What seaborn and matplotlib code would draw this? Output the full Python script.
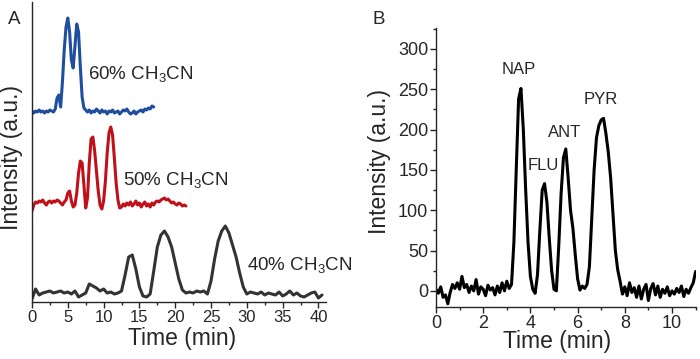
import numpy as np
import pandas as pd
import matplotlib.pyplot as plt
import seaborn as sns

# ---- data ----
# Panel A: chromatograms at 3 CH3CN fractions, intensity above each baseline
labels_a = ["60% CH$_\\mathregular{3}$CN", "50% CH$_\\mathregular{3}$CN", "40% CH$_\\mathregular{3}$CN"]
offsets_a = [190, 99, 9]
steps_a = [0.25, 0.25, 0.5]

blue_60 = [1, -1, 1, 0, 2, 0, 1, -1, 1, 0, 2, 1, 0, 3, 14, 17, 5, 30, 62, 85,
           94, 80, 52, 44, 66, 88, 80, 45, 15, 4, 2, 0, 2, -1, 1, 0, 3, 1, -1, 2,
           0, 1, -2, 1, 0, 2, -1, 0, 1, -2, 0, 2, 1, 3, 0, -2, -1, 1, -2, 0,
           1, 2, 0, 3, 2, 4, 3, 6, 5]
red_50 = [-8, -2, 1, 0, 2, 1, 3, 0, -2, 1, 2, 0, 2, 1, 3, 2, 0, -2, 1, 3,
          10, 12, 2, -4, -2, 10, 30, 42, 40, 18, -5, 5, 40, 64, 66, 52, 32, 12, -2, -6,
          2, 22, 50, 70, 76, 68, 45, 20, 3, -5, -4, -1, -3, 0, -2, 1, -3, -1, 2, -2,
          0, -4, -1, 1, -3, -1, -4, 0, -2, 1, 2, 1, 3, 4, 5, 3, 4, 2, 0, 1,
          -1, -2, 0, -1, -3, -2, -3]
gray_40 = [-6, 4, -2, 0, 1, 2, 0, 1, 2, 0, 1, -1, 2, -4, -2, 0, 9, 7, 5, 2,
           4, 0, 1, -1, 0, 2, 18, 36, 38, 24, 6, -3, -4, -1, 22, 46, 58, 62, 56, 46,
           30, 14, 3, 0, 1, 0, 2, 1, 2, -1, 12, 34, 52, 62, 67, 60, 48, 36, 20, 6,
           -1, 1, 0, -1, 1, -2, 0, -1, -2, 1, -3, -1, 2, -2, 0, -3, -4, -2, 0, 1,
           -5, -2]
colors_a = ["#1F4E9E", "#C0101A", "#333333"]
label_pos_a = [(7.8, 227), (12.7, 121), (30.0, 36)]

# Panel B: separation of four PAHs, 0.1 min sampling
intensity_b = [2, -3, 5, -8, -5, -16, -2, 8, 3, 10,
               2, 18, 4, 8, -2, 6, 0, 14, -4, 5,
               2, -6, 7, 1, 4, -5, 6, -2, 10, 0,
               12, 3, 8, 60, 150, 238, 251, 200, 125, 60,
               18, 2, -3, 20, 75, 125, 133, 110, 65, 25,
               2, 0, 55, 120, 165, 176, 140, 100, 78, 45,
               15, 1, 6, 3, 8, 30, 90, 150, 190, 205,
               212, 214, 195, 172, 140, 95, 50, 26, 12, -4,
               5, -6, 10, -2, 4, -8, 6, -10, 2, 8,
               -12, 3, 9, -5, 6, -8, 2, -3, 5, -6,
               0, -4, 3, -2, 6, -7, 2, -3, 4, 10,
               24]
peaks_b = ["NAP", "FLU", "ANT", "PYR"]
peak_pos_b = [(3.52, 274), (4.53, 155), (5.47, 196), (7.0, 237)]

# ---- build tables ----
frames = []
for lab, vals, step, off in zip(labels_a, [blue_60, red_50, gray_40], steps_a, offsets_a):
    frames.append(pd.DataFrame({"time": np.arange(len(vals)) * step,
                                "intensity": np.array(vals) + off,
                                "trace": lab}))
df_a = pd.concat(frames, ignore_index=True)
df_b = pd.DataFrame({"time": np.arange(len(intensity_b)) * 0.1,
                     "intensity": intensity_b})

sns.set_style("ticks")
plt.rcParams["font.family"] = ["Liberation Sans", "DejaVu Sans"]
plt.rcParams["mathtext.fontset"] = "custom"
plt.rcParams["mathtext.rm"] = "Liberation Sans"

fig = plt.figure(figsize=(7, 3.59), dpi=100)
ax_a = fig.add_axes([32 / 700, 57 / 359, 293.6 / 700, 300 / 359])
ax_b = fig.add_axes([436 / 700, 52 / 359, 259.6 / 700, 279 / 359])

# ---- panel A ----
sns.lineplot(data=df_a, x="time", y="intensity", hue="trace",
             palette=dict(zip(labels_a, colors_a)), linewidth=2.2,
             legend=False, ax=ax_a)
for lab, (x, y) in zip(labels_a, label_pos_a):
    ax_a.text(x, y, lab, fontsize=13.5, va="center", ha="left")
ax_a.set_xlim(0, 41)
ax_a.set_ylim(0, 300)
ax_a.set_xticks(range(0, 41, 5))
ax_a.set_xticks(np.arange(2.5, 41, 5), minor=True)
ax_a.set_yticks([])
ax_a.tick_params(axis="x", labelsize=12, length=4, width=1, pad=2)
ax_a.tick_params(axis="x", which="minor", length=2, width=1)
ax_a.set_xlabel("Time (min)", fontsize=16.5)
ax_a.set_ylabel("Intensity (a.u.)", fontsize=16.5)
ax_a.xaxis.set_label_coords(0.511, -0.12)
ax_a.xaxis.label.set_va("center")
ax_a.yaxis.set_label_coords(-0.0715, 0.483)
ax_a.yaxis.label.set_va("center")

# ---- panel B ----
sns.lineplot(data=df_b, x="time", y="intensity", color="black",
             linewidth=2.2, ax=ax_b)
for lab, (x, y) in zip(peaks_b, peak_pos_b):
    ax_b.text(x, y, lab, fontsize=12, ha="center", va="center")
ax_b.set_xlim(0, 11)
ax_b.set_ylim(-20, 326)
ax_b.set_xticks(range(0, 11, 2))
ax_b.set_xticks(range(1, 12, 2), minor=True)
ax_b.set_yticks(range(0, 301, 50))
ax_b.set_yticks(range(25, 326, 50), minor=True)
ax_b.tick_params(labelsize=13, length=4, width=1, pad=1.5)
ax_b.tick_params(which="minor", length=2, width=1)
ax_b.set_xlabel("Time (min)", fontsize=16.5)
ax_b.set_ylabel("Intensity (a.u.)", fontsize=16.5)
ax_b.xaxis.set_label_coords(0.466, -0.125)
ax_b.xaxis.label.set_va("center")
ax_b.yaxis.set_label_coords(-0.216, 0.52)
ax_b.yaxis.label.set_va("center")

for ax in (ax_a, ax_b):
    sns.despine(ax=ax)
    for s in ("left", "bottom"):
        ax.spines[s].set_linewidth(1)

fig.text(14 / 700, 1 - 19 / 359, "A", fontsize=13.5, ha="center", va="center")
fig.text(379 / 700, 1 - 19 / 359, "B", fontsize=13.5, ha="center", va="center")

fig.savefig("out.png", dpi=100)
